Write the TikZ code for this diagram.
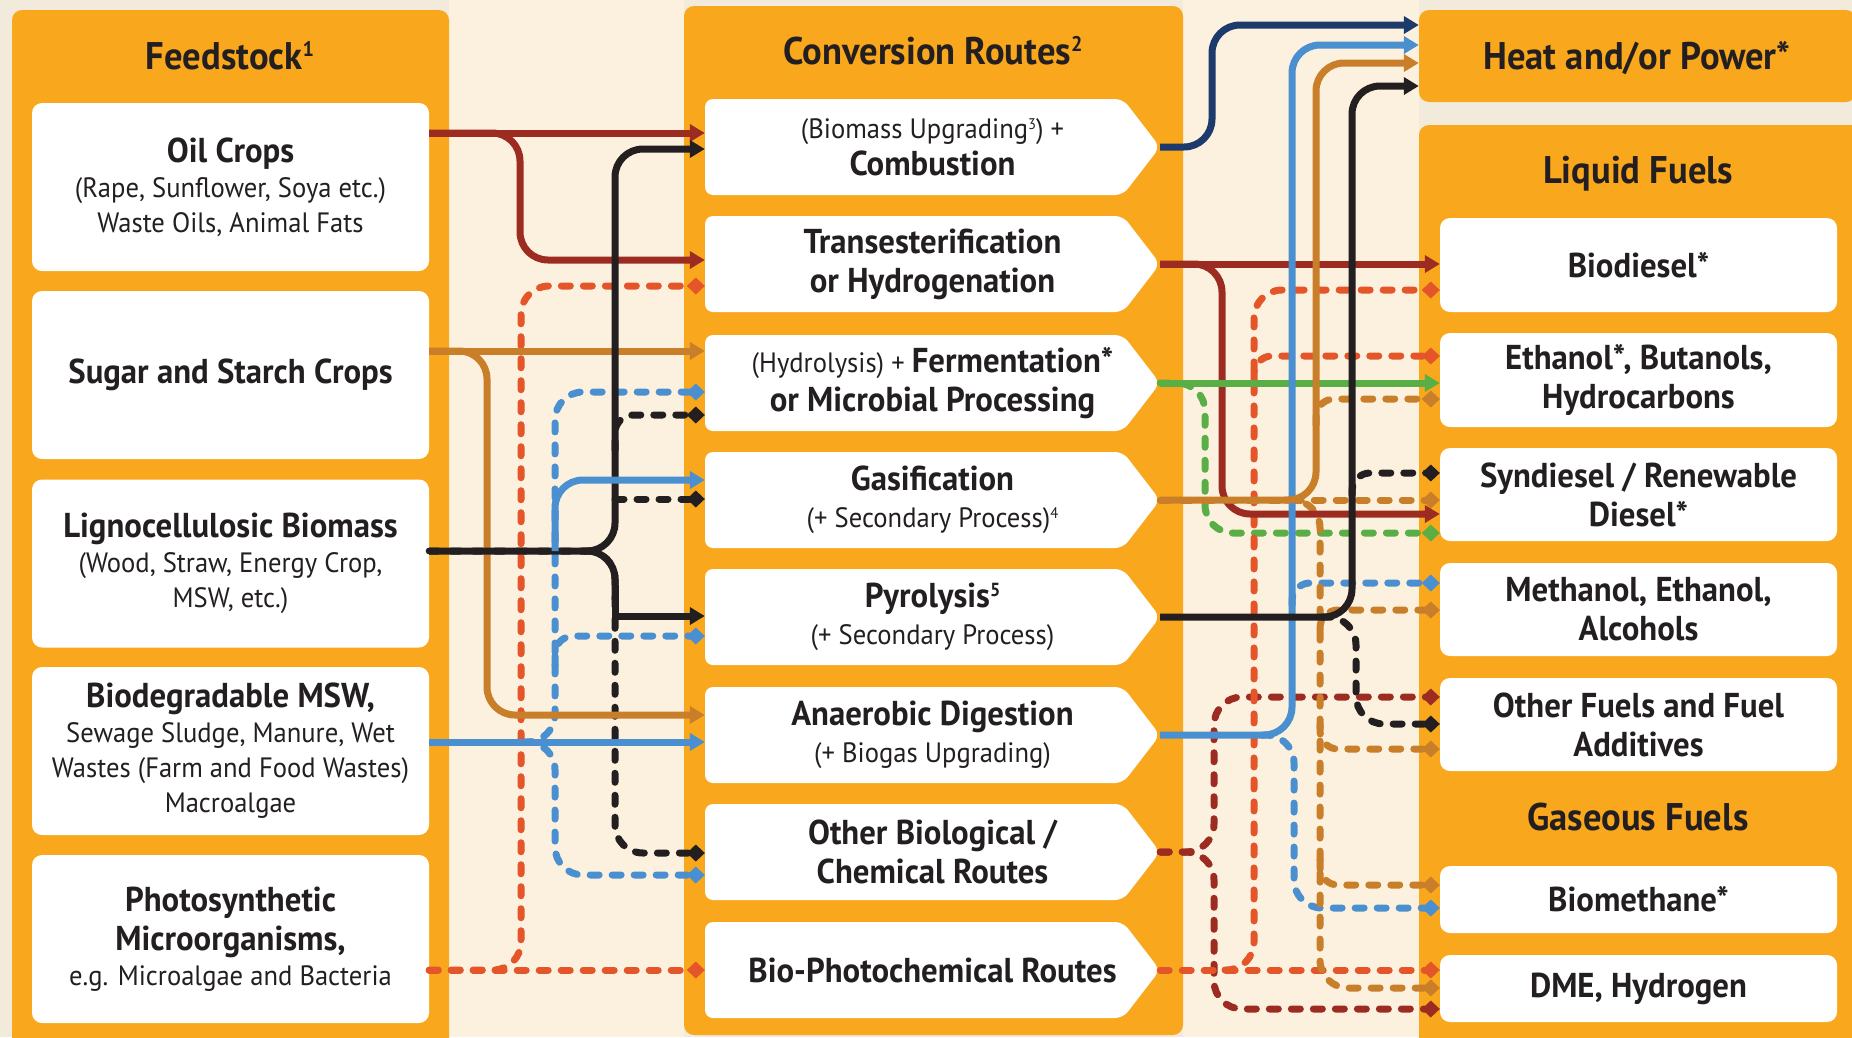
\documentclass[tikz,border=0pt]{standalone}
\usepackage{fontspec}
\setmainfont{PT Sans}[FakeStretch=0.95]
\usetikzlibrary{arrows.meta,positioning}

\definecolor{panel}{HTML}{F9A71D}
\definecolor{cream}{HTML}{FCF1DE}
\definecolor{margin}{HTML}{F2EBDC}
\definecolor{ink}{HTML}{231F20}
\definecolor{oilred}{HTML}{9C2B22}
\definecolor{ligblack}{HTML}{231F20}
\definecolor{sugbrown}{HTML}{C97F2A}
\definecolor{mswblue}{HTML}{4A8FD0}
\definecolor{algorange}{HTML}{E4552A}
\definecolor{fermgreen}{HTML}{5AAE46}
\definecolor{combnavy}{HTML}{1D3A6C}

\newcommand{\bld}[1]{{\fontsize{34.5}{39}\selectfont\bfseries #1}}
\newcommand{\sups}[1]{\raisebox{0.33em}{\scalebox{0.55}{#1}}}

\tikzset{
  feedbox/.style={fill=white, rounded corners=10pt, minimum width=397pt, minimum height=168pt,
    inner sep=2pt, align=center, text=ink, font=\fontsize{28}{35}\selectfont},
  route/.style={minimum width=455pt, minimum height=96pt, inner sep=2pt, align=center,
    text=ink, font=\fontsize{28}{37}\selectfont},
  fuelbox/.style={fill=white, rounded corners=10pt, minimum width=397pt, inner sep=2pt,
    align=center, text=ink, font=\fontsize{34.5}{39}\selectfont\bfseries},
  colhead/.style={text=ink, anchor=base, font=\fontsize{38.5}{42}\selectfont\bfseries},
  flow/.style={line width=7pt, rounded corners=28pt},
  broken/.style={line width=7pt, rounded corners=28pt, dash pattern=on 9pt off 13pt, line cap=round},
  arr/.style={-{Triangle[length=15pt,width=17pt]}},
  darr/.style={-{Kite[length=18pt,width=17pt,inset=9pt]}},
}

\begin{document}
\begin{tikzpicture}[x=1pt,y=-1pt]
    \useasboundingbox (0,0) rectangle (1852,1037);

    % Background and panels
    \fill[margin] (0,0) rectangle (1852,1037);
    \fill[cream] (449,0) rectangle (684,1037);
    \fill[cream] (1183,0) rectangle (1419,1037);
    \fill[panel,rounded corners=10pt] (12,10) rectangle (449,1070);
    \fill[panel,rounded corners=10pt] (684,6) rectangle (1183,1035);
    \fill[panel,rounded corners=10pt] (1419,125) rectangle (1880,1070);
    \node[fill=panel, rounded corners=10pt, minimum width=437pt, minimum height=92pt] (heat) at (1637.5,56) {};

    % Column heads
    \node[colhead] (feedhd) at (230,69) {Feedstock\sups{1}};
    \node[colhead] (convhd) at (933,64) {Conversion Routes\sups{2}};
    \node[colhead] (heathd) at (1637,69) {Heat and/or Power*};
    \node[colhead] (liqhd) at (1638,183) {Liquid Fuels};
    \node[colhead] (gashd) at (1638,830) {Gaseous Fuels};

    % Feedstock
    \node[feedbox] (oil) at (230.5,187) {\bld{Oil Crops}\\ (Rape, Sunflower, Soya etc.)\\ Waste Oils, Animal Fats};
    \node[feedbox] (sugar) at (230.5,375) {\bld{Sugar and Starch Crops}};
    \node[feedbox] (ligno) at (230.5,563.5) {\bld{Lignocellulosic Biomass}\\ (Wood, Straw, Energy Crop,\\ MSW, etc.)};
    \node[feedbox] (bio) at (230.5,751) {\bld{Biodegradable MSW,}\\ Sewage Sludge, Manure, Wet\\ Wastes (Farm and Food Wastes)\\ Macroalgae};
    \node[feedbox] (photo) at (230.5,939) {\bld{Photosynthetic}\\[4pt] \bld{Microorganisms,}\\ e.g. Microalgae and Bacteria};

    % Conversion routes
    \foreach \y in {147,264,383,500,617,735,852,970}
        \fill[white,rounded corners=8pt] (705,\y-48) -- (1123,\y-48) -- (1160,\y) -- (1123,\y+48) -- (705,\y+48) -- cycle;
    \node[route] (comb) at (932.5,147) {(Biomass Upgrading\sups{3}) +\\ \bld{Combustion}};
    \node[route] (trans) at (932.5,264) {\bld{Transesterification}\\[2pt] \bld{or Hydrogenation}};
    \node[route] (ferm) at (932.5,383) {(Hydrolysis) + \bld{Fermentation*}\\[2pt] \bld{or Microbial Processing}};
    \node[route] (gasif) at (932.5,500) {\bld{Gasification}\\ (+ Secondary Process)\sups{4}};
    \node[route] (pyro) at (932.5,617) {\bld{Pyrolysis\sups{5}}\\ (+ Secondary Process)};
    \node[route] (anaer) at (932.5,735) {\bld{Anaerobic Digestion}\\ (+ Biogas Upgrading)};
    \node[route] (other) at (932.5,852) {\bld{Other Biological /}\\[2pt] \bld{Chemical Routes}};
    \node[route] (biophoto) at (932.5,970) {\bld{Bio-Photochemical Routes}};

    % Products
    \node[fuelbox, minimum height=94pt] (biod) at (1638.5,265) {Biodiesel*};
    \node[fuelbox, minimum height=94pt] (eth) at (1638.5,380) {Ethanol*, Butanols,\\ Hydrocarbons};
    \node[fuelbox, minimum height=93pt] (syn) at (1638.5,494.5) {Syndiesel / Renewable\\ Diesel*};
    \node[fuelbox, minimum height=93pt] (meth) at (1638.5,609.5) {Methanol, Ethanol,\\ Alcohols};
    \node[fuelbox, minimum height=93pt] (addit) at (1638.5,724.5) {Other Fuels and Fuel\\ Additives};
    \node[fuelbox, minimum height=67pt] (biometh) at (1638.5,899.5) {Biomethane*};
    \node[fuelbox, minimum height=67pt] (dme) at (1638.5,988.5) {DME, Hydrogen};

    % Fork points
    \coordinate (ligfork) at (580,551);
    \coordinate (mswfork) at (523,742);
    \coordinate (gasfork) at (1285,500);
    \coordinate (adfork) at (1262,735);
    \coordinate (pyrofork) at (1322,617);
    \coordinate (photofork) at (1225,970);

    % Feedstock to conversion
    \draw[broken,ligblack,darr] (ligno.east |- ligfork) -| (615,853) -- (other.west |- 0,853);
    \draw[broken,ligblack,darr,rounded corners=18pt] (615,450) |- (ferm.west |- 0,415);
    \draw[broken,ligblack,darr] (615,499) -- (gasif.west |- 0,499);
    \draw[broken,mswblue,darr] (mswfork) -| (555,392) -- (ferm.west |- 0,392);
    \draw[broken,mswblue,darr,rounded corners=18pt] (555,665) |- (pyro.west |- 0,636);
    \draw[broken,mswblue,darr] (mswfork) -| (555,875) -- (other.west |- 0,875);
    \draw[broken,algorange,darr] (photo.east |- 0,970) -- (biophoto.west |- 0,970);
    \draw[broken,algorange,darr] (photo.east |- 0,970) -| (521,286) -- (trans.west |- 0,286);
    \draw[flow,oilred,arr] (oil.east |- 0,133) -- (comb.west |- 0,133);
    \draw[flow,oilred,arr] (oil.east |- 0,133) -| (520,260) -- (trans.west |- 0,260);
    \draw[flow,sugbrown,arr] (sugar.east |- 0,351) -- (ferm.west |- 0,351);
    \draw[flow,sugbrown,arr] (sugar.east |- 0,351) -| (487,715) -- (anaer.west |- 0,715);
    \draw[flow,ligblack,arr] (ligno.east |- ligfork) -| (615,149) -- (comb.west |- 0,149);
    \draw[flow,ligblack] (ligfork) -| (615,600);
    \draw[line width=7pt,ligblack,arr] (615,585) |- (pyro.west |- 0,616);
    \draw[flow,mswblue,arr] (555,551) |- (gasif.west |- 0,480);
    \draw[flow,mswblue,arr] (bio.east |- mswfork) -- (anaer.west |- mswfork);

    % Conversion to products
    \draw[broken,fermgreen,darr] (ferm.east) -| (1205,533) -- (syn.west |- 0,533);
    \draw[broken,oilred,darr] (other.east) -| (1214,697) -- (addit.west |- 0,697);
    \draw[broken,oilred,darr] (other.east) -| (1214,1009) -- (dme.west |- 0,1009);
    \draw[broken,algorange,darr] (biophoto.east) -- (dme.west |- biophoto.east);
    \draw[broken,algorange,darr] (photofork) -| (1254,290) -- (biod.west |- 0,290);
    \draw[broken,algorange,darr,rounded corners=18pt] (1254,380) |- (eth.west |- 0,356);
    \draw[broken,mswblue,darr] (adfork) -| (1294,908) -- (biometh.west |- 0,908);
    \draw[broken,mswblue,darr,rounded corners=18pt] (1292,605) |- (meth.west |- 0,583);
    \draw[broken,sugbrown,darr] (gasif.east) -- (syn.west |- gasif.east);
    \draw[broken,sugbrown,darr] (gasfork) -| (1320,988) -- (dme.west |- 0,988);
    \draw[broken,sugbrown,darr,rounded corners=18pt] (1316,425) |- (eth.west |- 0,399);
    \draw[broken,sugbrown,darr,rounded corners=18pt] (1320,630) |- (meth.west |- 0,610);
    \draw[broken,sugbrown,darr,rounded corners=18pt] (1320,725) |- (addit.west |- 0,749);
    \draw[broken,sugbrown,darr,rounded corners=18pt] (1320,860) |- (biometh.west |- 0,885);
    \draw[broken,ligblack,darr,rounded corners=18pt] (1352,495) |- (syn.west |- 0,473);
    \draw[broken,ligblack,darr] (pyrofork) -| (1356,724) -- (addit.west |- 0,724);
    \draw[flow,combnavy,arr] (comb.east) -| (1212,25) -- (heat.west |- 0,25);
    \draw[flow,oilred,arr] (trans.east) -- (biod.west |- trans.east);
    \draw[flow,oilred,arr] (trans.east) -| (1222,514) -- (syn.west |- 0,514);
    \draw[flow,fermgreen,arr] (ferm.east) -- (eth.west |- ferm.east);
    \draw[flow,mswblue,arr] (anaer.east) -| (1292,45) -- (heat.west |- 0,45);
    \draw[flow,sugbrown,arr] (gasif.east) -| (1316,63) -- (heat.west |- 0,63);
    \draw[flow,ligblack,arr] (pyro.east) -| (1352,86) -- (heat.west |- 0,86);
\end{tikzpicture}
\end{document}
